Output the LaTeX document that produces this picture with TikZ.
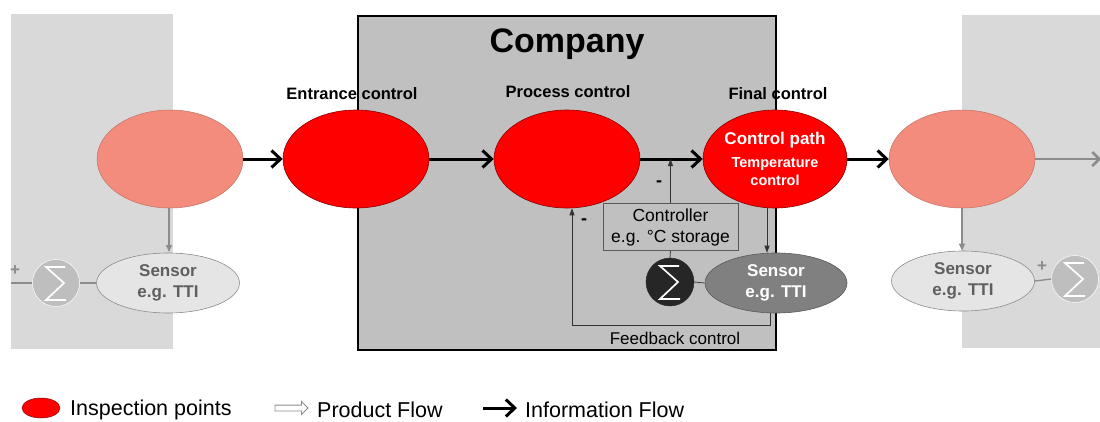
\documentclass[tikz,border=0pt]{standalone}
\usepackage{fontspec}
\setmainfont{Liberation Sans}
\usetikzlibrary{arrows.meta,shapes.geometric,shapes.arrows}
\definecolor{panelgray}{RGB}{217,217,217}
\definecolor{compgray}{RGB}{192,192,192}
\definecolor{salmon}{RGB}{243,140,124}
\definecolor{ptred}{RGB}{255,0,0}
\definecolor{redborder}{RGB}{140,0,0}
\definecolor{fadeline}{RGB}{140,140,140}
\definecolor{fadetext}{RGB}{95,95,95}
\definecolor{lightsig}{RGB}{190,190,190}
\definecolor{darksig}{RGB}{38,38,38}
\definecolor{sensdarkfill}{RGB}{128,128,128}
\definecolor{lightsens}{RGB}{229,229,229}
\newcommand\sigmaglyph[1]{%
  \draw[white,line width=1.7pt,line join=miter]
    ([shift={(9,-16)}]#1.center) -- ([shift={(-10,-16)}]#1.center)
    -- ([shift={(8,0)}]#1.center) -- ([shift={(-10,17)}]#1.center)
    -- ([shift={(10,17)}]#1.center);}
\begin{document}
\begin{tikzpicture}[x=1pt,y=-1pt,
  every node/.style={inner sep=0pt},
  redell/.style={ellipse,fill=ptred,draw=redborder,line width=0.6pt,minimum width=146pt,minimum height=98pt},
  fadedell/.style={ellipse,fill=salmon,draw=salmon!80!black,line width=0.5pt,minimum width=146pt,minimum height=98pt},
  lightsensor/.style={ellipse,fill=lightsens,draw=fadeline,line width=0.6pt,minimum width=143pt,minimum height=60pt,
     align=center,text=fadetext,font=\bfseries\fontsize{17}{21}\selectfont},
  darksensor/.style={ellipse,fill=sensdarkfill,draw=sensdarkfill!70!black,line width=0.6pt,minimum width=142pt,minimum height=60pt,
     align=center,text=white,font=\bfseries\fontsize{17}{21}\selectfont},
  lightsigma/.style={circle,fill=lightsig,draw=white,line width=0.5pt,minimum size=47pt},
  darksigma/.style={circle,fill=darksig,draw=darksig,minimum size=48pt},
  ctrlbox/.style={rectangle,draw=black!65,line width=0.7pt,minimum width=135pt,minimum height=47pt,
     align=center,font=\fontsize{17.5}{21}\selectfont},
  lbl/.style={font=\bfseries\fontsize{16.5}{20}\selectfont},
  info/.style={line width=3pt,-{Straight Barb[length=9pt,width=17pt,line width=3pt]}},
  grayinfo/.style={line width=2.5pt,draw=fadeline,-{Straight Barb[length=7pt,width=14pt,line width=2.5pt]}},
  thinarr/.style={line width=0.8pt,draw=black!80,-{Triangle[length=7pt,width=5pt]}},
  thinline/.style={line width=0.8pt,draw=black!75},
  grayarr/.style={line width=1.3pt,draw=fadeline,-{Triangle[length=7pt,width=6pt]}},
  grayline/.style={line width=1.3pt,draw=fadeline},
  legtext/.style={anchor=west,font=\fontsize{21.5}{26}\selectfont}
]
\useasboundingbox (0,0) rectangle (1100,421);
% background panels
\fill[panelgray] (11,14) rectangle (173,349);
\fill[panelgray] (962,15) rectangle (1100,348);
\draw[fill=compgray,line width=2pt] (358,16) rectangle (776,350);
\node[font=\bfseries\fontsize{34}{40}\selectfont] (title) at (567,44) {Company};

% labels
\node[lbl] (lent) at (352,94) {Entrance control};
\node[lbl] (lproc) at (568,92) {Process control};
\node[lbl] (lfin) at (778,94) {Final control};

% inspection points
\node[fadedell] (lf) at (170,159) {};
\node[redell] (ent) at (356,159) {};
\node[redell] (proc) at (567,159) {};
\node[redell,minimum width=144pt,align=center,text=white,font=\bfseries\fontsize{14.5}{18}\selectfont] (fin) at (775,159)
  {{\fontsize{17}{20}\selectfont Control path}\\[5pt]Temperature\\control};
\node[fadedell] (rf) at (962,159) {};

% information flow
\draw[info] (lf) -- (ent);
\draw[info] (ent) -- (proc);
\draw[info] (proc) -- (fin);
\draw[info] (fin) -- (rf);
\coordinate (exitpt) at (1101,159);
\draw[grayinfo] (rf) -- (exitpt);

% controller loop
\node[ctrlbox] (ctrl) at (670.5,227) {Controller\\e.g. °C storage};
\node[darksigma] (s2) at (670,282) {};
\sigmaglyph{s2}
\node[darksensor] (sen) at (776,283) {Sensor\\e.g. TTI};
\draw[thinarr] (ctrl.north) -- (ctrl.north |- proc.east);
\draw[thinline] (ctrl.south) -- (s2.north);
\draw[thinline] (s2.east) -- (sen.west);
\draw[thinarr] ([xshift=-8pt]fin.south) -- ([xshift=-9pt]sen.north);
\coordinate (fbR) at ([xshift=-6pt]sen.south);
\coordinate (fbL) at ([xshift=5pt]proc.south);
\coordinate (fbY) at (0,325);
\draw[thinarr] (fbR) -- (fbR |- fbY) -| (fbL);
\node[font=\bfseries\fontsize{18}{20}\selectfont] (m1) at (659,184) {-};
\node[font=\bfseries\fontsize{18}{20}\selectfont] (m2) at (584,222) {-};
\node[font=\fontsize{17}{21}\selectfont] (fbtext) at (675,338) {Feedback control};

% left faded loop
\node[lightsensor] (lsen) at (168,283) {Sensor\\e.g. TTI};
\node[lightsigma] (s1) at (56,283) {};
\sigmaglyph{s1}
\coordinate (la) at (169,208);
\coordinate (lb) at (169,252);
\draw[grayarr] (la) -- (lb);
\draw[grayline] (s1.east) -- (lsen.west);
\coordinate (lstart) at (11,283);
\draw[grayline] (lstart) -- (s1.west);
\node[text=fadeline,font=\bfseries\fontsize{17}{20}\selectfont] (p1) at (15,271) {+};

% right faded loop
\node[lightsensor] (rsen) at (963,281) {Sensor\\e.g. TTI};
\node[lightsigma] (s3) at (1075,279) {};
\sigmaglyph{s3}
\draw[grayarr] (rf.south) -- (rsen.north -| rf.south);
\draw[grayline] (rsen.east) -- (s3.west);
\node[text=fadeline,font=\bfseries\fontsize{17}{20}\selectfont] (p2) at (1042,267) {+};

% legend
\node[ellipse,fill=ptred,draw=redborder,line width=0.5pt,minimum width=38pt,minimum height=20pt] (lg1) at (41,408) {};
\node[legtext] (lgt1) at (70,410) {Inspection points};
\node[single arrow,draw=fadeline,fill=white,line width=0.8pt,inner sep=2.5pt,minimum height=33pt,single arrow head extend=3.5pt] (lg2) at (290,408) {};
\node[legtext] (lgt2) at (317,410) {Product Flow};
\coordinate (lg3a) at (483,408);
\coordinate (lg3b) at (517,408);
\draw[info] (lg3a) -- (lg3b);
\node[legtext] (lgt3) at (525,410) {Information Flow};
\end{tikzpicture}
\end{document}
